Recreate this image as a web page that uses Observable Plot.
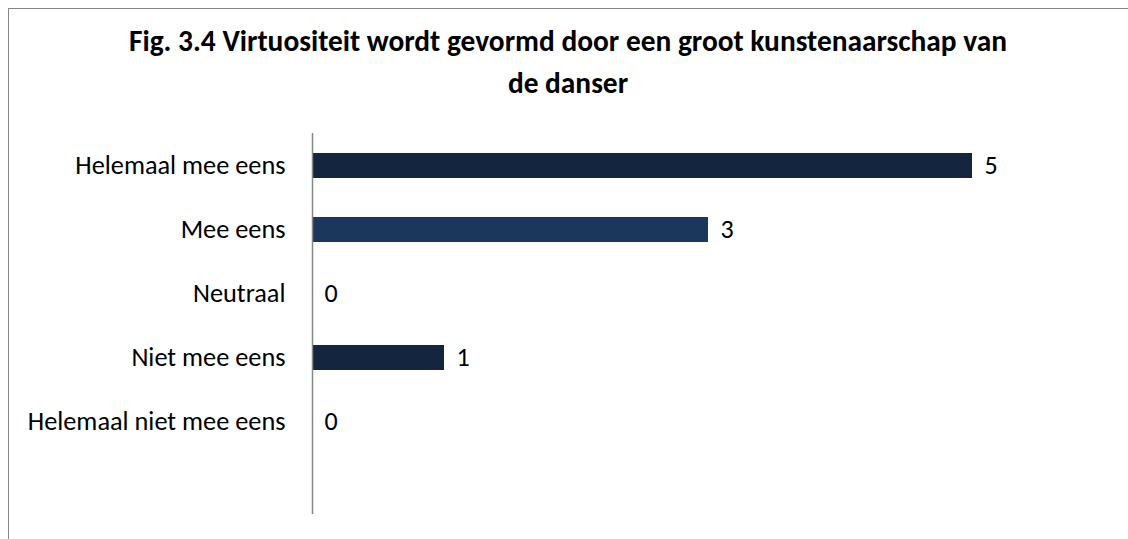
<!DOCTYPE html>
<html>
<head>
<meta charset="utf-8">
<script src="https://cdn.jsdelivr.net/npm/d3@7"></script>
<script src="https://cdn.jsdelivr.net/npm/@observablehq/plot@0.6"></script>
<style>
  html, body { margin: 0; padding: 0; background: #fff; overflow: hidden; }
  body { width: 1128px; height: 539px; position: relative; font-family: Carlito, Calibri, Lato, sans-serif; }
  #frame { position: absolute; left: 8px; top: 8px; width: 1140px; height: 560px; border: 1px solid #878787; box-sizing: border-box; }
  #title { position: absolute; left: 0; top: 20px; width: 1136px; text-align: center; font-weight: bold; font-size: 29.4px; line-height: 42px; color: #000; }
  #chart { position: absolute; left: 0; top: 0; }
</style>
</head>
<body>
<div id="frame"></div>
<div id="chart"></div>
<div id="title">Fig. 3.4 Virtuositeit wordt gevormd door een groot kunstenaarschap van<br>de danser</div>
<script>
const categories = ["Helemaal mee eens", "Mee eens", "Neutraal", "Niet mee eens", "Helemaal niet mee eens"];
const values = [5, 3, 0, 1, 0];
const barColors = ["#14263f", "#1b375c", "#14263f", "#14263f", "#14263f"];

const data = categories.map((c, i) => ({category: c, value: values[i]}));
const yDomain = [...categories, ""];

const chart = Plot.plot({
  width: 1128,
  height: 539,
  marginLeft: 312,
  marginRight: 156,
  marginTop: 133,
  marginBottom: 22,
  style: {fontFamily: "Carlito, Calibri, Lato, sans-serif", fontSize: "26px", color: "#000", background: "transparent"},
  x: {domain: [0, 5], axis: null},
  y: {domain: yDomain, paddingInner: 0.61, paddingOuter: 0.305, align: 0.5, axis: null},
  color: {domain: categories, range: barColors},
  marks: [
    Plot.barX(data, {x: "value", y: "category", fill: "category"}),
    Plot.axisY({tickSize: 0, tickPadding: 27, fontSize: 26.3, label: null}),
    Plot.ruleX([0], {stroke: "#868686", strokeWidth: 1.5, insetBottom: 3}),
    Plot.text(data, {x: "value", y: "category", text: d => String(d.value), textAnchor: "start", dx: 12, fontSize: 26, fill: "#000"})
  ]
});
document.getElementById("chart").appendChild(chart);
</script>
</body>
</html>
